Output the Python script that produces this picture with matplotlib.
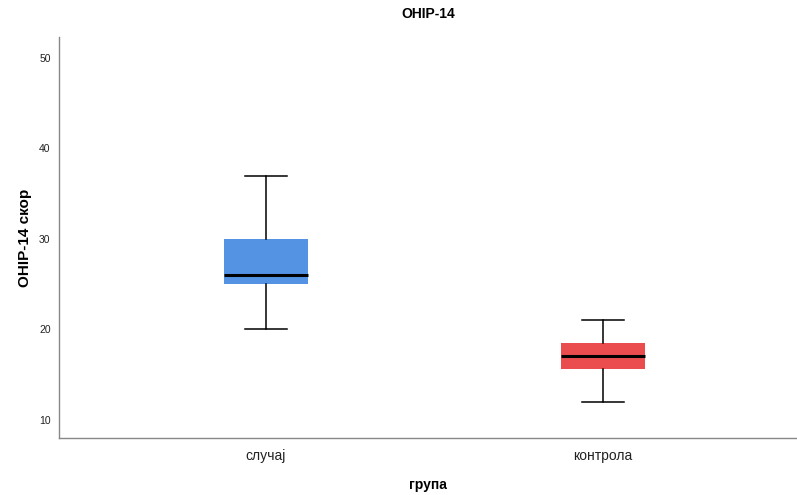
import matplotlib.pyplot as plt

groups = ['случај', 'контрола']
whisker_low = [20, 12]
q1 = [25, 15.6]
median = [26, 17.1]
q3 = [30, 18.5]
whisker_high = [37, 21]
colors = ['#5493E4', '#EB4C4E']

plt.rcParams['font.family'] = ['Liberation Sans', 'DejaVu Sans']

fig = plt.figure(figsize=(7.97, 4.95), dpi=100)
ax = fig.add_axes([0.074, 0.115, 0.926, 0.81])

stats = []
for i, g in enumerate(groups):
    stats.append({'label': g, 'whislo': whisker_low[i], 'q1': q1[i], 'med': median[i],
                  'q3': q3[i], 'whishi': whisker_high[i], 'fliers': []})

bp = ax.bxp(stats, positions=[1, 2], widths=0.25, patch_artist=True, showfliers=False,
            boxprops=dict(linewidth=0),
            medianprops=dict(color='black', linewidth=2.2),
            whiskerprops=dict(color='black', linewidth=1.1),
            capprops=dict(color='black', linewidth=1.1),
            capwidths=0.125)
for patch, c in zip(bp['boxes'], colors):
    patch.set_facecolor(c)

ax.set_xlim(0.386, 2.576)
ax.set_ylim(8.0, 52.3)
ax.set_yticks([10, 20, 30, 40, 50])
ax.tick_params(axis='both', length=0)
ax.tick_params(axis='y', labelsize=7.5, colors='#222222', pad=6)
ax.tick_params(axis='x', labelsize=10, colors='#222222', pad=8)
for s in ['top', 'right']:
    ax.spines[s].set_visible(False)
for s in ['left', 'bottom']:
    ax.spines[s].set_color('#888888')
    ax.spines[s].set_linewidth(1.0)

ax.set_title('OHIP-14', fontsize=10, fontweight='bold', pad=14)
ax.set_ylabel('OHIP-14 скор', fontsize=11, fontweight='bold', labelpad=5)
ax.set_xlabel('група', fontsize=10, fontweight='bold', labelpad=11)

fig.savefig('out.png', dpi=100)
